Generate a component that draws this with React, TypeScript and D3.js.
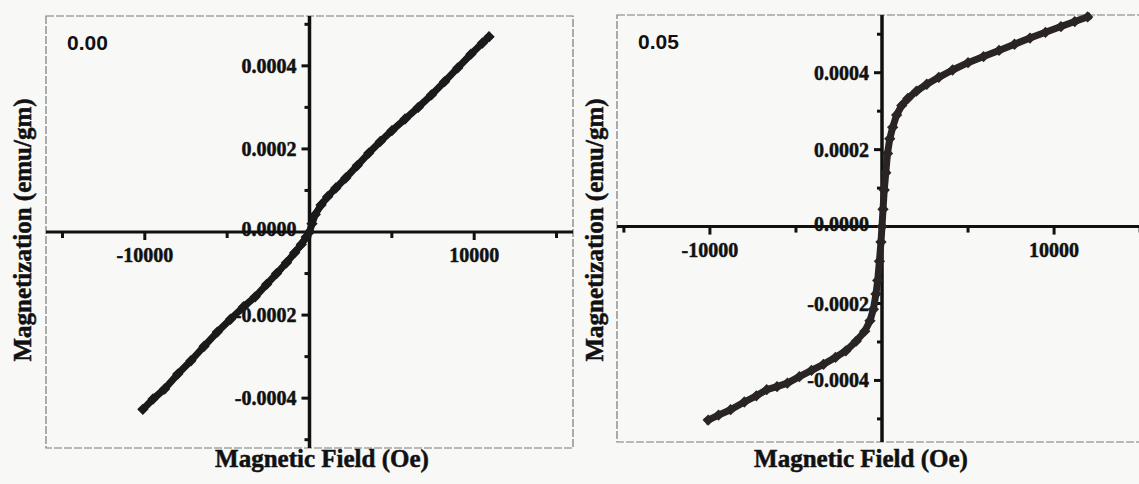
import React from "react";
import * as d3 from "d3";

// ---------- data ----------
// Panel "0.00"
const fieldA: number[] = [
  -10120, -9500, -8800, -8000, -7200, -6400, -5600, -4800, -4000, -3300, -2600, -2000,
  -1400, -900, -500, -200, 0, 150, 350, 700, 1100, 1600, 2200, 2900, 3600, 4300, 5000,
  5800, 6600, 7400, 8200, 9000, 9800, 10500, 10900,
];
const magA: number[] = [
  -0.000427, -0.000402, -0.000378, -0.000342, -0.00031, -0.000275, -0.000241, -0.00021,
  -0.00018, -0.000156, -0.000126, -0.0001, -0.000074, -0.00005, -0.00003, -0.000012, 0,
  0.00002, 0.000042, 0.000065, 0.000085, 0.000106, 0.00013, 0.00016, 0.00019, 0.000218,
  0.000244, 0.000272, 0.0003, 0.00033, 0.000362, 0.000395, 0.000428, 0.000455, 0.00047,
];

// Panel "0.05"
const fieldB: number[] = [
  -10100, -9500, -8800, -8000, -7300, -6700, -6100, -5500, -4800, -4100, -3400, -2700,
  -2100, -1500, -1000, -700, -500, -350, -250, -150, -60, 0, 60, 130, 220, 320, 450, 620,
  850, 1150, 1500, 2000, 2600, 3300, 4100, 5000, 5900, 6800, 7700, 8600, 9500, 10400,
  11200, 11950,
];
const magB: number[] = [
  -0.000503, -0.00049, -0.000476, -0.000456, -0.00044, -0.000424, -0.000416, -0.000407,
  -0.00039, -0.000374, -0.000358, -0.00034, -0.000323, -0.000298, -0.000272, -0.000245,
  -0.000215, -0.000175, -0.00014, -0.00009, -0.00004, 0, 0.000045, 0.000095, 0.00014,
  0.00019, 0.000228, 0.000258, 0.00029, 0.000315, 0.000333, 0.000352, 0.00037, 0.000388,
  0.000407, 0.000426, 0.000442, 0.000458, 0.000474, 0.00049, 0.000505, 0.00052, 0.000533,
  0.000545,
];

const panelLabels: string[] = ["0.00", "0.05"];
const xMajorTicks: number[] = [-10000, 10000];
const xMinorTicks: number[] = [-15000, -5000, 5000, 15000];
const yMajorTicks: number[] = [-0.0004, -0.0002, 0.0002, 0.0004];
const yMinorTicks: number[] = [-0.0005, -0.0003, -0.0001, 0.0001, 0.0003, 0.0005];
const xTitle = "Magnetic Field (Oe)";
const yTitle = "Magnetization (emu/gm)";

// ---------- layout ----------
const W = 1139;
const H = 484;
const SERIF = "'Liberation Serif', 'Times New Roman', serif";
const SANS = "'Liberation Sans', Arial, sans-serif";

type PanelCfg = {
  field: number[];
  mag: number[];
  label: string;
  xDomain: [number, number];
  yDomain: [number, number];
  left: number;
  right: number;
  top: number;
  bottom: number;
  yTitleX: number;
  xTitleX: number;
  curveColor: string;
};

const panels: PanelCfg[] = [
  {
    field: fieldA,
    mag: magA,
    label: panelLabels[0],
    xDomain: [-16000, 16000],
    yDomain: [-0.00052, 0.00052],
    left: 46,
    right: 573,
    top: 16,
    bottom: 448,
    yTitleX: 31,
    xTitleX: 322,
    curveColor: "#1a1a1a",
  },
  {
    field: fieldB,
    mag: magB,
    label: panelLabels[1],
    xDomain: [-15400, 15400],
    yDomain: [-0.00056, 0.00055],
    left: 617,
    right: 1147,
    top: 15,
    bottom: 442,
    yTitleX: 603,
    xTitleX: 861,
    curveColor: "#2a2424",
  },
];

const hy = (s: string) => s.replace("\u2212", "-");

function Panel({ p }: { p: PanelCfg }) {
  const x = d3.scaleLinear().domain(p.xDomain).range([p.left, p.right]);
  const y = d3.scaleLinear().domain(p.yDomain).range([p.bottom, p.top]);
  const x0 = x(0);
  const y0 = y(0);
  const pts: [number, number][] = p.field.map((f, i) => [f, p.mag[i]]);
  const line = d3
    .line<[number, number]>()
    .x((d) => x(d[0]))
    .y((d) => y(d[1]));
  const fmt = d3.format(".4f");
  const ink = "#111";
  const textStroke = { stroke: ink, strokeWidth: 0.5 };
  return (
    <g>
      {/* frame */}
      <rect
        x={p.left}
        y={p.top}
        width={p.right - p.left}
        height={p.bottom - p.top}
        fill="none"
        stroke="#7a7a7a"
        strokeWidth={1.2}
        strokeDasharray="8 2"
      />
      {/* panel label */}
      <text x={p.left + 21} y={p.top + 34} fontFamily={SANS} fontWeight="bold" fontSize={21} fill={ink}>
        {p.label}
      </text>
      {/* y tick labels */}
      {yMajorTicks.map((t) => (
        <text
          key={"yl" + t}
          x={x0 - 13}
          y={y(t) + 7}
          textAnchor="end"
          fontFamily={SERIF}
          fontWeight="bold"
          fontSize={20}
          fill={ink}
          {...textStroke}
        >
          {hy(fmt(t))}
        </text>
      ))}
      <text
        x={x0 - 13}
        y={y0 + 4}
        textAnchor="end"
        fontFamily={SERIF}
        fontWeight="bold"
        fontSize={20}
        fill={ink}
        {...textStroke}
      >
        {fmt(0)}
      </text>
      {/* x tick labels */}
      {xMajorTicks.map((t) => (
        <text
          key={"xl" + t}
          x={x(t)}
          y={y0 + 30}
          textAnchor="middle"
          fontFamily={SERIF}
          fontWeight="bold"
          fontSize={20}
          fill={ink}
          {...textStroke}
        >
          {hy(d3.format("d")(t))}
        </text>
      ))}
      {/* axes */}
      <line x1={p.left} x2={p.right} y1={y0} y2={y0} stroke={ink} strokeWidth={3} />
      <line x1={x0} x2={x0} y1={p.top} y2={p.bottom} stroke={ink} strokeWidth={3.5} />
      {xMajorTicks.map((t) => (
        <line key={"xt" + t} x1={x(t)} x2={x(t)} y1={y0} y2={y0 + 8} stroke={ink} strokeWidth={3} />
      ))}
      {xMinorTicks
        .filter((t) => x(t) > p.left && x(t) < p.right)
        .map((t) => (
          <line key={"xm" + t} x1={x(t)} x2={x(t)} y1={y0} y2={y0 + 6} stroke={ink} strokeWidth={3} />
        ))}
      {yMajorTicks.map((t) => (
        <line key={"yt" + t} x1={x0 - 8} x2={x0} y1={y(t)} y2={y(t)} stroke={ink} strokeWidth={3} />
      ))}
      {yMinorTicks
        .filter((t) => y(t) > p.top && y(t) < p.bottom)
        .map((t) => (
          <line key={"ym" + t} x1={x0 - 5} x2={x0} y1={y(t)} y2={y(t)} stroke={ink} strokeWidth={3} />
        ))}
      {/* curve */}
      <path
        d={line(pts) || ""}
        fill="none"
        stroke={p.curveColor}
        strokeWidth={7}
        strokeLinejoin="round"
        strokeLinecap="square"
      />
      {pts.map((d, i) => (
        <rect
          key={"m" + i}
          x={x(d[0]) - 4}
          y={y(d[1]) - 4}
          width={8}
          height={8}
          fill={p.curveColor}
          transform={`rotate(45 ${x(d[0])} ${y(d[1])})`}
        />
      ))}
      {/* titles */}
      <text
        x={p.xTitleX}
        y={467}
        textAnchor="middle"
        fontFamily={SERIF}
        fontWeight="bold"
        fontSize={25}
        fill={ink}
        {...textStroke}
      >
        {xTitle}
      </text>
      <text
        transform={`translate(${p.yTitleX}, 230) rotate(-90)`}
        textAnchor="middle"
        fontFamily={SERIF}
        fontWeight="bold"
        fontSize={25}
        fill={ink}
        {...textStroke}
      >
        {yTitle}
      </text>
    </g>
  );
}

export default function App() {
  return (
    <svg
      width={W}
      height={H}
      viewBox={`0 0 ${W} ${H}`}
      style={{ position: "absolute", left: 0, top: 0, background: "#f8f8f6" }}
    >
      <rect x={0} y={0} width={W} height={H} fill="#f8f8f6" />
      {panels.map((p, i) => (
        <Panel key={i} p={p} />
      ))}
    </svg>
  );
}
